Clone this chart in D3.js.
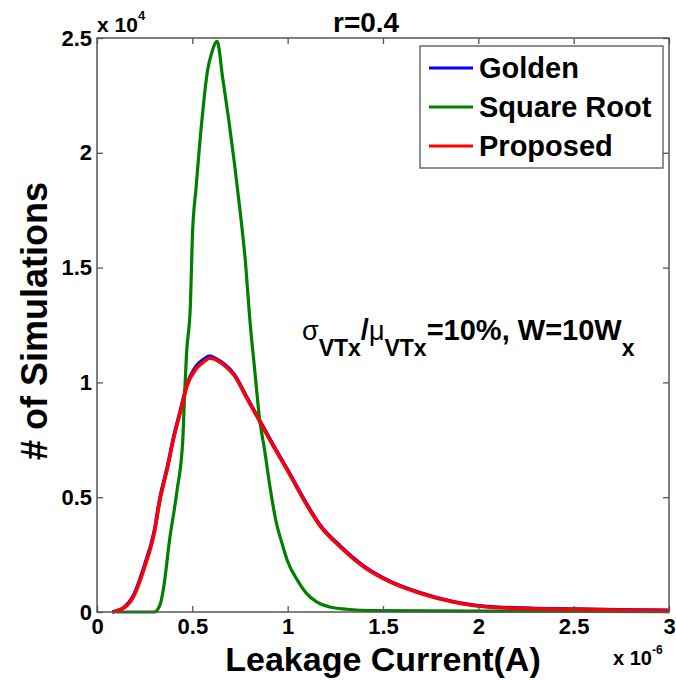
<!DOCTYPE html>
<html>
<head>
<meta charset="utf-8">
<script src="https://cdn.jsdelivr.net/npm/d3@7"></script>
<style>
  body { margin: 0; background: #fff; }
  text { font-family: "Liberation Sans", Arial, Helvetica, sans-serif; font-weight: bold; fill: #000; }
</style>
</head>
<body>
<svg id="chart" width="676" height="680"></svg>
<script>
(function() {
  var xTicks = [0, 0.5, 1, 1.5, 2, 2.5, 3];
  var yTicks = [0, 5000, 10000, 15000, 20000, 25000];

  // leakage current (x 1e-6 A) and counts
  var goldenI = [0.08, 0.14, 0.19, 0.25, 0.30, 0.33, 0.37, 0.40, 0.44, 0.47, 0.52, 0.56, 0.59, 0.62, 0.65, 0.72, 0.79, 0.86, 0.93, 1.00, 1.05, 1.08, 1.17, 1.28, 1.40, 1.54, 1.69, 1.87, 2.05, 2.27, 2.50, 2.74, 3.00];
  var goldenN = [0, 190, 700, 2050, 3500, 4950, 6350, 7550, 8850, 9850, 10700, 11000, 11150, 11050, 10900, 10340, 9290, 8240, 7190, 6190, 5440, 4990, 3790, 2840, 1990, 1320, 850, 450, 240, 160, 130, 100, 70];

  var proposedI = [0.08, 0.14, 0.19, 0.25, 0.30, 0.33, 0.37, 0.40, 0.44, 0.47, 0.52, 0.56, 0.59, 0.62, 0.65, 0.72, 0.79, 0.86, 0.93, 1.00, 1.05, 1.08, 1.17, 1.28, 1.40, 1.54, 1.69, 1.87, 2.05, 2.27, 2.50, 2.74, 3.00];
  var proposedN = [0, 170, 650, 1960, 3440, 4880, 6300, 7500, 8800, 9800, 10600, 10900, 11050, 11000, 10850, 10300, 9250, 8200, 7150, 6150, 5400, 4950, 3750, 2800, 1960, 1300, 830, 440, 220, 150, 120, 90, 60];

  var sqrtI = [0.10, 0.30, 0.33, 0.35, 0.38, 0.42, 0.45, 0.46, 0.47, 0.49, 0.50, 0.52, 0.55, 0.58, 0.60, 0.63, 0.66, 0.69, 0.72, 0.75, 0.78, 0.80, 0.83, 0.85, 0.88, 0.91, 0.94, 0.97, 1.00, 1.05, 1.10, 1.15, 1.22, 1.31, 1.45, 2.00, 3.00];
  var sqrtN = [0, 0, 300, 1090, 3100, 5300, 7500, 9600, 11300, 13400, 16300, 18500, 21400, 23600, 24300, 24850, 23200, 21500, 19600, 17500, 15100, 12900, 10300, 8600, 7000, 5300, 3900, 3000, 2200, 1400, 800, 450, 220, 120, 60, 40, 20];

  var seriesNames = ['Golden', 'Square Root', 'Proposed'];
  var seriesColors = ['#0000ff', '#008000', '#ff0000'];
  var seriesWidths = [3.6, 3.2, 3.6];

  var svg = d3.select('#chart');
  var x = d3.scaleLinear().domain([0, 3]).range([97, 669]);
  var y = d3.scaleLinear().domain([0, 25000]).range([612, 38]);

  var zip = function(a, b) {
    return a.map(function(v, i) { return [v, b[i]]; });
  };
  var series = [zip(goldenI, goldenN), zip(sqrtI, sqrtN), zip(proposedI, proposedN)];

  var line = d3.line()
    .x(function(d) { return x(d[0]); })
    .y(function(d) { return y(d[1]); })
    .curve(d3.curveMonotoneX);

  svg.append('g').selectAll('path').data(series).enter().append('path')
    .attr('d', line)
    .attr('fill', 'none')
    .attr('stroke', function(d, i) { return seriesColors[i]; })
    .attr('stroke-width', function(d, i) { return seriesWidths[i]; })
    .attr('stroke-linejoin', 'round');

  // axes, ticks pointing inward like matlab
  var axisColor = '#555';
  var gx = svg.append('g').attr('transform', 'translate(0,612)')
    .call(d3.axisBottom(x).tickValues(xTicks).tickSize(-6).tickSizeOuter(0).tickFormat(function(d) { return String(d); }));
  gx.selectAll('text').attr('y', 22).attr('dy', 0).style('font-size', '22px');

  var gy = svg.append('g').attr('transform', 'translate(97,0)')
    .call(d3.axisLeft(y).tickValues(yTicks).tickSize(-6).tickSizeOuter(0).tickFormat(function(d) { return String(d / 10000); }));
  gy.selectAll('text').attr('x', -5).attr('dy', 7).style('font-size', '22px');

  svg.append('g').attr('transform', 'translate(0,38)')
    .call(d3.axisTop(x).tickValues(xTicks).tickSize(-6).tickSizeOuter(0).tickFormat(''));
  svg.append('g').attr('transform', 'translate(669,0)')
    .call(d3.axisRight(y).tickValues(yTicks).tickSize(-6).tickSizeOuter(0).tickFormat(''));

  svg.selectAll('.domain').remove();
  svg.selectAll('.tick line').attr('stroke', axisColor).attr('stroke-width', 1.3);
  svg.selectAll('.tick text').attr('fill', '#000').style('font-family', '"Liberation Sans", Arial, sans-serif').style('font-weight', 'bold');

  svg.append('rect')
    .attr('x', x(0)).attr('y', y(25000))
    .attr('width', x(3) - x(0)).attr('height', y(0) - y(25000))
    .attr('fill', 'none').attr('stroke', axisColor).attr('stroke-width', 1.5);

  // exponent labels
  var e4 = svg.append('text').attr('x', 97).attr('y', 32).style('font-size', '21px').text('x 10');
  e4.append('tspan').attr('dy', -12).style('font-size', '13px').text('4');
  var e6 = svg.append('text').attr('x', 613).attr('y', 665).style('font-size', '20px').text('x 10');
  e6.append('tspan').attr('dy', -11).style('font-size', '12px').text('-6');

  // titles
  svg.append('text').attr('x', 333).attr('y', 32).style('font-size', '28px').text('r=0.4');
  svg.append('text').attr('x', 383).attr('y', 671).attr('text-anchor', 'middle')
    .style('font-size', '34px').text('Leakage Current(A)');
  svg.append('text').attr('transform', 'translate(47,321) rotate(-90)').attr('text-anchor', 'middle')
    .style('font-size', '36px').text('# of Simulations');

  // annotation
  var ann = svg.append('text').attr('x', 302).attr('y', 340).style('font-size', '29px');
  ann.append('tspan').style('font-weight', 'normal').style('font-size', '27px').text('σ');
  ann.append('tspan').attr('dy', 16).style('font-size', '23px').text('VTx');
  ann.append('tspan').attr('dy', -16).text('/');
  ann.append('tspan').style('font-weight', 'normal').style('font-size', '27px').text('μ');
  ann.append('tspan').attr('dy', 16).style('font-size', '23px').text('VTx');
  ann.append('tspan').attr('dy', -16).text('=10%, W=10W');
  ann.append('tspan').attr('dy', 16).style('font-size', '23px').text('x');

  // legend
  var lg = svg.append('g');
  lg.append('rect').attr('x', 420).attr('y', 46).attr('width', 243).attr('height', 122)
    .attr('fill', '#fff').attr('stroke', axisColor).attr('stroke-width', 1.3);
  var rows = lg.selectAll('g.row').data(seriesNames).enter().append('g')
    .attr('class', 'row')
    .attr('transform', function(d, i) { return 'translate(0,' + (68 + i * 39) + ')'; });
  rows.append('line').attr('x1', 429).attr('x2', 473).attr('y1', 0).attr('y2', 0)
    .attr('stroke', function(d, i) { return seriesColors[i]; }).attr('stroke-width', 3.2);
  rows.append('text').attr('x', 479).attr('y', 10).style('font-size', '29px').text(function(d) { return d; });
})();
</script>
</body>
</html>
